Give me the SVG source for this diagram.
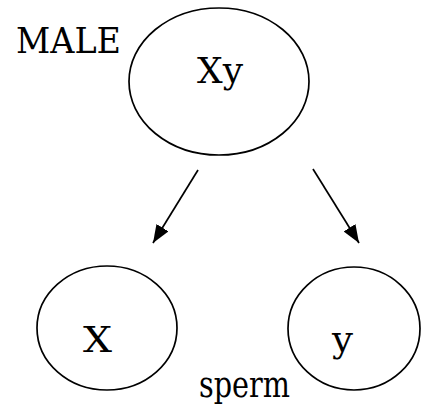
<svg xmlns="http://www.w3.org/2000/svg" width="421" height="409" viewBox="0 0 421 409">
<style>
.node{fill:none;stroke:#000;stroke-width:1.7}
.t{font-family:'DejaVu Serif','Liberation Serif',serif;font-size:35px;fill:#000}
.c{stroke:#000;stroke-width:1.7;fill:none}
</style>
<defs>
<marker id="ah" viewBox="0 0 18 14" refX="18" refY="7" markerWidth="18" markerHeight="14" markerUnits="userSpaceOnUse" orient="auto">
<path d="M0,0 L18,7 L0,14 z" fill="#000"/>
</marker>
</defs>
<rect width="421" height="409" fill="#fff"/>
<text class="t" x="16" y="53" textLength="105" lengthAdjust="spacingAndGlyphs">MALE</text>
<g id="male">
<ellipse class="node" cx="219" cy="81.5" rx="90" ry="73.5"/>
<text class="t" x="197" y="83" textLength="46" lengthAdjust="spacingAndGlyphs">Xy</text>
</g>
<g id="spermX">
<ellipse class="node" cx="107" cy="328" rx="70" ry="62"/>
<text class="t" x="83" y="352" textLength="29" lengthAdjust="spacingAndGlyphs">X</text>
</g>
<g id="spermY">
<ellipse class="node" cx="354" cy="328.5" rx="66" ry="61.5"/>
<text class="t" x="332" y="352" textLength="21" lengthAdjust="spacingAndGlyphs">y</text>
</g>
<text class="t" x="199" y="397" textLength="91" lengthAdjust="spacingAndGlyphs">sperm</text>
<g id="connectors">
<line class="c" x1="198" y1="170" x2="153" y2="243" marker-end="url(#ah)"/>
<line class="c" x1="313" y1="169" x2="359" y2="243" marker-end="url(#ah)"/>
</g>
</svg>
